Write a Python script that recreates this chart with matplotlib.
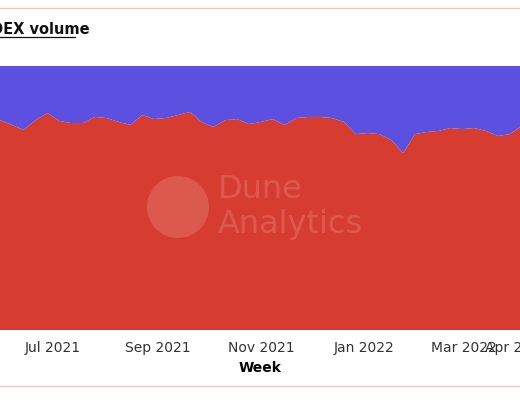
import matplotlib
matplotlib.use('Agg')
import matplotlib.pyplot as plt
from matplotlib.patches import Ellipse
import pandas as pd

# ── Data: weekly share of DEX volume (%), red series on bottom ─────
weeks = pd.date_range('2021-05-24', periods=46, freq='7D')
red_share = [80.3, 79.5, 77.7, 75.8, 79.5, 82.2, 79.2, 78.4, 78.4, 80.7,
             80.3, 78.8, 77.7, 81.4, 79.9, 80.3, 81.4, 82.6, 78.8, 76.9,
             79.5, 79.9, 78.0, 78.8, 79.9, 77.7, 80.3, 80.7, 80.7, 80.3,
             78.8, 74.2, 74.6, 74.2, 72.0, 67.0, 74.2, 75.0, 75.4, 76.5,
             76.1, 76.5, 75.4, 73.5, 74.2, 77.3]
blue_share = [100 - v for v in red_share]
tick_dates = ['2021-07-01', '2021-09-01', '2021-11-01', '2022-01-01', '2022-03-01', '2022-04-01']
tick_labels = ['Jul 2021', 'Sep 2021', 'Nov 2021', 'Jan 2022', 'Mar 2022', 'Apr 2022']

RED = '#d73c30'
BLUE = '#5b50df'

fig = plt.figure(figsize=(5.2, 4.0), dpi=100)
ax = fig.add_axes([0, 70 / 400, 1, 264 / 400])

ax.stackplot(weeks, red_share, blue_share, colors=[RED, BLUE], linewidth=0)
ax.set_xlim(pd.Timestamp('2021-05-31'), pd.Timestamp('2022-04-03'))
ax.set_ylim(0, 100)
ax.set_yticks([])
ax.set_xticks([pd.Timestamp(d) for d in tick_dates])
ax.set_xticklabels(tick_labels, fontsize=10, color='#333333')
ax.tick_params(axis='x', length=0, pad=8)
for s in ax.spines.values():
    s.set_visible(False)
ax.set_xlabel('Week', fontsize=10, fontweight='bold', labelpad=4)

# watermark
cx, cy = 178 / 520, (330 - 207) / 264
ax.add_patch(Ellipse((cx, cy), 62 / 520, 62 / 264, transform=ax.transAxes,
                     facecolor='white', alpha=0.15, edgecolor='none'))
ax.text(218 / 520, (330 - 190) / 264, 'Dune', transform=ax.transAxes, fontsize=23,
        color='white', alpha=0.15, va='center')
ax.text(218 / 520, (330 - 225) / 264, 'Analytics', transform=ax.transAxes, fontsize=23,
        color='white', alpha=0.15, va='center')

# title and card borders
fig.text(-0.018, 1 - 29 / 400, 'DEX volume', fontsize=10.5, fontweight='bold',
         va='center', color='#111111')
fig.add_artist(plt.Line2D([0, 0.145], [1 - 37 / 400] * 2, color='#111111', lw=0.9))
fig.add_artist(plt.Line2D([0, 1], [1 - 8 / 400] * 2, color='#f0c8bd', lw=1))
fig.add_artist(plt.Line2D([0, 1], [1 - 386 / 400] * 2, color='#f0c8bd', lw=1))

fig.savefig('out.png', dpi=100)
